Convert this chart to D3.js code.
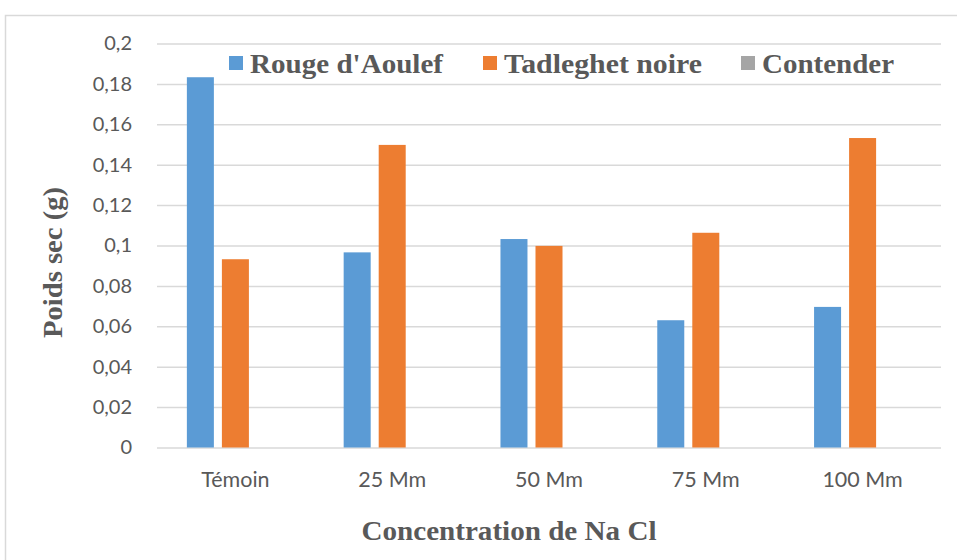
<!DOCTYPE html>
<html>
<head>
<meta charset="utf-8">
<script src="https://cdn.jsdelivr.net/npm/d3@7"></script>
<style>
  html, body { margin: 0; padding: 0; background: #fff; }
  svg { display: block; }
</style>
</head>
<body>
<svg id="chart" width="957" height="560"></svg>
<script>
const categories = ["Témoin", "25 Mm", "50 Mm", "75 Mm", "100 Mm"];
const seriesNames = ["Rouge d'Aoulef", "Tadleghet noire", "Contender"];
const rougeAoulef = [0.1833, 0.0966, 0.1032, 0.0630, 0.0696];
const tadleghetNoire = [0.0932, 0.1498, 0.0998, 0.1063, 0.1532];
const contender = [0, 0, 0, 0, 0];
const yTickValues = [0, 0.02, 0.04, 0.06, 0.08, 0.1, 0.12, 0.14, 0.16, 0.18, 0.2];
const yTickLabels = ["0", "0,02", "0,04", "0,06", "0,08", "0,1", "0,12", "0,14", "0,16", "0,18", "0,2"];
const colors = ["#5b9bd5", "#ed7d31", "#a5a5a5"];
const seriesValues = [rougeAoulef, tadleghetNoire, contender];

const svg = d3.select("#chart");
const W = 957, H = 560;
const plot = { left: 157, right: 941, top: 43.5, bottom: 447.5 };

// frame
svg.append("path")
  .attr("d", `M5.5,${H} L5.5,15.5 L${W},15.5`)
  .attr("fill", "none").attr("stroke", "#d9d9d9").attr("stroke-width", 1.5);

const y = d3.scaleLinear().domain([0, 0.2]).range([plot.bottom, plot.top]);
const x0 = d3.scaleBand().domain(categories).range([plot.left, plot.right])
  .paddingInner(0.33).paddingOuter(0.165);
const x1 = d3.scaleBand().domain(seriesNames).range([0, x0.bandwidth()])
  .paddingInner(0.229).paddingOuter(0.114);

// gridlines
const yAxis = d3.axisLeft(y).tickValues(yTickValues)
  .tickFormat((d, i) => yTickLabels[i])
  .tickSize(-(plot.right - plot.left)).tickPadding(25);
const gy = svg.append("g").attr("transform", `translate(${plot.left},0)`).call(yAxis);
gy.select(".domain").remove();
gy.selectAll(".tick line").attr("stroke", "#d9d9d9").attr("stroke-width", 1.5);
gy.selectAll(".tick text").attr("fill", "#595959")
  .style("font-family", "Lato, 'Open Sans', sans-serif").style("font-size", "20px");

// bars
const data = categories.map((c, i) => ({ cat: c, vals: seriesNames.map((s, j) => ({ s, v: seriesValues[j][i], j })) }));
const groups = svg.append("g").selectAll("g").data(data).join("g")
  .attr("transform", d => `translate(${x0(d.cat)},0)`);
groups.selectAll("rect").data(d => d.vals).join("rect")
  .attr("x", d => x1(d.s))
  .attr("width", x1.bandwidth())
  .attr("y", d => y(d.v))
  .attr("height", d => y(0) - y(d.v))
  .attr("fill", d => colors[d.j]);

// x axis labels
const xAxis = d3.axisBottom(x0).tickSize(0).tickPadding(24.5);
const gx = svg.append("g").attr("transform", `translate(0,${plot.bottom})`).call(xAxis);
gx.select(".domain").remove();
gx.selectAll(".tick text").attr("fill", "#595959")
  .style("font-family", "Lato, 'Open Sans', sans-serif").style("font-size", "21.5px");

// legend
const legendX = [229, 483, 741];
const legendW = [193, 198, 132];
const lg = svg.append("g");
seriesNames.forEach((s, i) => {
  lg.append("rect").attr("x", legendX[i]).attr("y", 56).attr("width", 14).attr("height", 14).attr("fill", colors[i]);
  lg.append("text").attr("x", legendX[i] + 21).attr("y", 73)
    .attr("fill", "#595959")
    .attr("textLength", legendW[i]).attr("lengthAdjust", "spacingAndGlyphs")
    .style("font-family", "'Liberation Serif', 'Times New Roman', serif")
    .style("font-weight", "bold").style("font-size", "27px")
    .text(s);
});

// axis titles
svg.append("text").attr("transform", "translate(62,262.5) rotate(-90)")
  .attr("text-anchor", "middle").attr("fill", "#595959")
  .attr("textLength", 151).attr("lengthAdjust", "spacingAndGlyphs")
  .style("font-family", "'Liberation Serif', 'Times New Roman', serif")
  .style("font-weight", "bold").style("font-size", "27px")
  .text("Poids sec (g)");
svg.append("text").attr("x", 509).attr("y", 540)
  .attr("text-anchor", "middle").attr("fill", "#595959")
  .attr("textLength", 295).attr("lengthAdjust", "spacingAndGlyphs")
  .style("font-family", "'Liberation Serif', 'Times New Roman', serif")
  .style("font-weight", "bold").style("font-size", "27px")
  .text("Concentration de Na Cl");
</script>
</body>
</html>
